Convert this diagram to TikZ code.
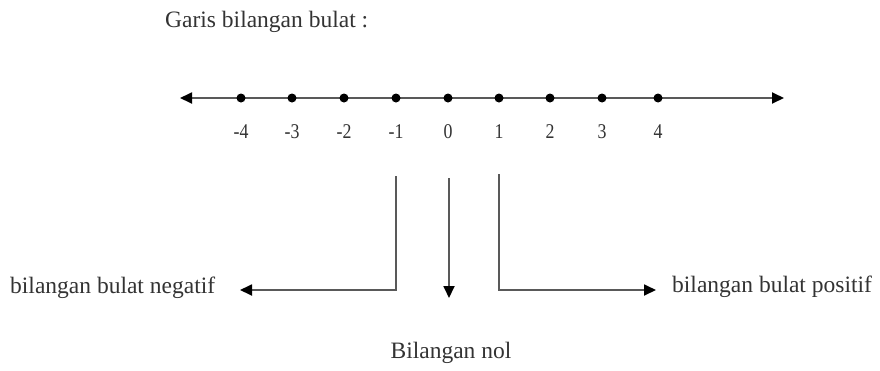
\documentclass[tikz,border=0pt]{standalone}
\usepackage{fontspec}
\setmainfont{Liberation Serif}
\usetikzlibrary{arrows.meta}
\begin{document}
\begin{tikzpicture}[x=1pt,y=-1pt,
  lbl/.style={font=\fontsize{23.5}{26}\selectfont, inner sep=0pt, text=black!80},
  num/.style={font=\fontsize{21}{24}\selectfont, inner sep=0pt, text=black!80, xscale=0.85},
  ln/.style={line width=1.8pt, draw=black!65},
  tip/.style={-{Triangle[length=12pt,width=11pt,color=black]}},
  dot/.style={circle, fill=black, inner sep=0pt, minimum size=9pt}]
\useasboundingbox (0,0) rectangle (880,370);
\node[lbl, anchor=west] (title) at (165,22) {Garis bilangan bulat :};
\coordinate (L) at (180,98);
\coordinate (R) at (784,98);
\draw[ln, {Triangle[length=12pt,width=11pt,color=black]}-{Triangle[length=12pt,width=11pt,color=black]}] (L) -- (R);
\foreach \v/\x in {-4/241,-3/292,-2/344,-1/396,0/448,1/499,2/550,3/602,4/658}{
  \node[dot] (d\v) at (\x,98) {};
  \node[num] (n\v) at (\x,132) {\v};
}
\node[lbl, anchor=west] (neg) at (10,288) {bilangan bulat negatif};
\node[lbl, anchor=west] (pos) at (672,287) {bilangan bulat positif};
\node[lbl] (nol) at (451,353) {Bilangan nol};
\coordinate (a1) at (396,176);
\coordinate (a2) at (396,290);
\coordinate (a3) at (240,290);
\coordinate (b1) at (449,178);
\coordinate (b2) at (449,298);
\coordinate (c1) at (499,174);
\coordinate (c2) at (499,290);
\coordinate (c3) at (656,290);
\draw[ln, tip] (a1) -- (a2) -- (a3);
\draw[ln, tip] (b1) -- (b2);
\draw[ln, tip] (c1) -- (c2) -- (c3);
\end{tikzpicture}
\end{document}
